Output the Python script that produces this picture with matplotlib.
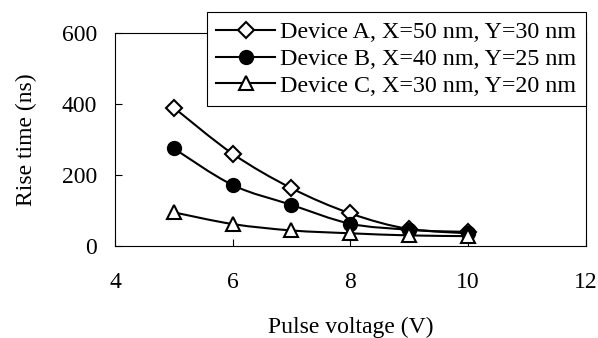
import numpy as np
import matplotlib.pyplot as plt
from matplotlib.path import Path
from matplotlib.patches import PathPatch
from matplotlib.lines import Line2D

plt.rcParams['font.family'] = ['Liberation Serif', 'DejaVu Serif']

voltage = [5, 6, 7, 8, 9, 10]
device_a = [390, 260, 163, 92, 48, 40]
device_b = [275, 172, 116, 63, 46, 36]
device_c = [95, 62, 44, 36, 30, 28]
labels = ["Device A, X=50 nm, Y=30 nm",
          "Device B, X=40 nm, Y=25 nm",
          "Device C, X=30 nm, Y=20 nm"]


def smooth_path(xs, ys):
    # Excel-like smoothed line: Catmull-Rom segments as cubic beziers
    pts = np.column_stack([xs, ys]).astype(float)
    verts = [pts[0]]
    codes = [Path.MOVETO]
    n = len(pts)
    for i in range(n - 1):
        p0 = pts[max(i - 1, 0)]
        p1 = pts[i]
        p2 = pts[i + 1]
        p3 = pts[min(i + 2, n - 1)]
        c1 = p1 + (p2 - p0) / 6.0
        c2 = p2 - (p3 - p1) / 6.0
        verts += [c1, c2, p2]
        codes += [Path.CURVE4] * 3
    return Path(verts, codes)


fig = plt.figure(figsize=(5.98, 3.38), dpi=100)
ax = fig.add_axes([0.1923, 0.272, 0.787, 0.630])

styles = [dict(marker='D', mfc='white', ms=8.5),
          dict(marker='o', mfc='black', ms=9.5),
          dict(marker='^', mfc='white', ms=10.5)]

handles = []
for ys, st, lab in zip([device_a, device_b, device_c], styles, labels):
    ax.add_patch(PathPatch(smooth_path(voltage, ys), fill=False,
                           lw=1.5, ec='black', zorder=2))
    ax.plot(voltage, ys, ls='none', marker=st['marker'], ms=st['ms'],
            mfc=st['mfc'], mec='black', mew=1.5, zorder=3, clip_on=False)
    handles.append(Line2D([], [], color='black', lw=1.5, marker=st['marker'],
                          ms=st['ms'], mfc=st['mfc'], mec='black', mew=1.5))

ax.set_xlim(4, 12)
ax.set_ylim(0, 600)
ax.set_xticks([4, 6, 8, 10, 12])
ax.set_yticks([0, 200, 400, 600])
ax.tick_params(direction='in', length=5, width=0.8, labelsize=17)
ax.tick_params(axis='x', pad=19)
ax.tick_params(axis='y', pad=13)
for s in ax.spines.values():
    s.set_linewidth(0.8)

ax.set_xlabel("Pulse voltage (V)", fontsize=17, labelpad=17)
ax.set_ylabel("Rise time (ns)", fontsize=17, labelpad=18)

leg = ax.legend(handles, labels, loc='upper right', bbox_to_anchor=(1.0, 1.099),
                fontsize=17.3, frameon=True, fancybox=False, edgecolor='black',
                framealpha=1, handlelength=2.45, handletextpad=0.2,
                labelspacing=0.2, borderpad=0.4, borderaxespad=0)
leg.get_frame().set_linewidth(0.8)

fig.savefig("out.png", dpi=100)
